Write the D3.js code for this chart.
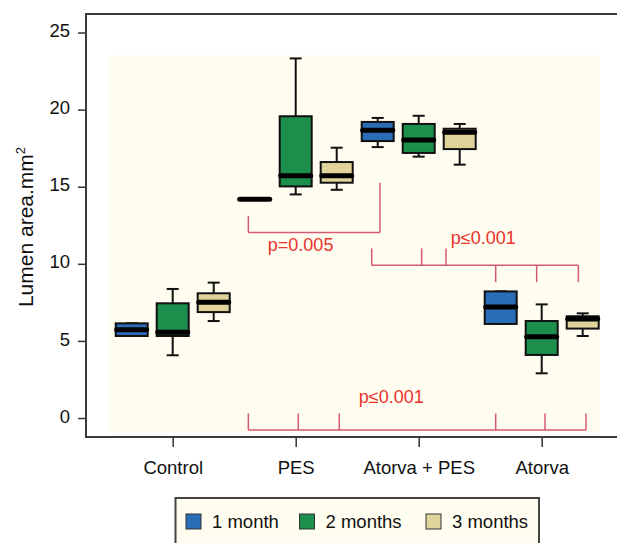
<!DOCTYPE html>
<html>
<head>
<meta charset="utf-8">
<script src="https://cdn.jsdelivr.net/npm/d3@7"></script>
<style>
  html, body { margin: 0; padding: 0; background: #ffffff; }
  svg { display: block; font-family: "Liberation Sans", Arial, Helvetica, sans-serif; }
</style>
</head>
<body>
<svg id="chart" width="617" height="543"></svg>
<script>
// ---------- data ----------
const categories = ["Control", "PES", "Atorva + PES", "Atorva"];
const months = ["1 month", "2 months", "3 months"];
const monthColors = ["#2a6cb6", "#1c8f4c", "#e0d49a"];
// each entry: [min, q1, median, q3, max] per category
const month1 = [
  [5.32, 5.32, 5.72, 6.14, 6.14],
  [14.18, 14.18, 14.18, 14.18, 14.18],
  [17.57, 17.96, 18.66, 19.2, 19.46],
  [6.1, 6.1, 7.2, 8.21, 8.21]
];
const month2 = [
  [4.07, 5.32, 5.56, 7.44, 8.37],
  [14.5, 15.02, 15.71, 19.57, 23.32],
  [16.95, 17.19, 18.03, 19.07, 19.6],
  [2.9, 4.09, 5.27, 6.29, 7.37]
];
const month3 = [
  [6.29, 6.87, 7.5, 8.09, 8.78],
  [14.8, 15.26, 15.71, 16.6, 17.53],
  [16.43, 17.44, 18.53, 18.76, 19.07],
  [5.32, 5.8, 6.42, 6.6, 6.79]
];
const yTicks = [0, 5, 10, 15, 20, 25];
const yLabel = "Lumen area.mm";
// significance brackets: x in category-index units, y in data units
const bracketLabels = ["p=0.005", "p\u22640.001", "p\u22640.001"];
const bracketBarY = [12.03, 9.9, -0.78];
const bracketTicks = [
  [[0.615, 13.11], [1.685, 15.25]],
  [[1.618, 11.0], [2.024, 11.0], [2.222, 11.0], [2.626, 8.81], [2.959, 8.81], [3.298, 8.81]],
  [[0.615, 0.3], [1.021, 0.3], [1.354, 0.3], [2.626, 0.3], [3.027, 0.3], [3.36, 0.3]]
];
const bracketLabelPos = [[1.04, 10.8], [2.525, 11.28], [1.777, 1.0]];

// ---------- layout ----------
const svg = d3.select("#chart");
const frame = { left: 86, top: 14, right: 617, bottom: 437 };
const y = d3.scaleLinear().domain([-1.23, 26.2]).range([frame.bottom, frame.top]);
const x = d3.scalePoint().domain(categories).range([172.7, 541.7]);
const xIdx = d3.scaleLinear().domain([0, categories.length - 1]).range([172.7, 541.7]);
const xSub = d3.scalePoint().domain(months).range([-41, 41]);
const boxW = 32, capW = 12;
const series = [month1, month2, month3];

// plot background
svg.append("rect")
  .attr("x", 108).attr("y", 55)
  .attr("width", 492).attr("height", 378)
  .attr("fill", "#fffdf0");

// ---------- boxes ----------
const boxData = [];
series.forEach((s, mi) => s.forEach((v, ci) => boxData.push({ m: months[mi], c: categories[ci], v, color: monthColors[mi] })));

const g = svg.append("g");
const boxes = g.selectAll("g.box").data(boxData).join("g")
  .attr("class", "box")
  .attr("transform", d => `translate(${x(d.c) + xSub(d.m)},0)`);

// whiskers
boxes.append("line")
  .attr("x1", 0).attr("x2", 0)
  .attr("y1", d => y(d.v[4])).attr("y2", d => y(d.v[3]))
  .attr("stroke", "#111").attr("stroke-width", 2);
boxes.append("line")
  .attr("x1", 0).attr("x2", 0)
  .attr("y1", d => y(d.v[1])).attr("y2", d => y(d.v[0]))
  .attr("stroke", "#111").attr("stroke-width", 2);
boxes.append("line")
  .attr("x1", -capW / 2).attr("x2", capW / 2)
  .attr("y1", d => y(d.v[4])).attr("y2", d => y(d.v[4]))
  .attr("stroke", "#111").attr("stroke-width", 2);
boxes.append("line")
  .attr("x1", -capW / 2).attr("x2", capW / 2)
  .attr("y1", d => y(d.v[0])).attr("y2", d => y(d.v[0]))
  .attr("stroke", "#111").attr("stroke-width", 2);
// box
boxes.append("rect")
  .attr("x", -boxW / 2).attr("width", boxW)
  .attr("y", d => y(d.v[3]))
  .attr("height", d => y(d.v[1]) - y(d.v[3]))
  .attr("fill", d => d.color)
  .attr("stroke", "#111").attr("stroke-width", 2);
// median
boxes.append("line")
  .attr("x1", -boxW / 2 + 1).attr("x2", boxW / 2 - 1)
  .attr("y1", d => y(d.v[2])).attr("y2", d => y(d.v[2]))
  .attr("stroke", "#000").attr("stroke-width", 5)
  .attr("stroke-linecap", "round");

// ---------- significance brackets ----------
const bracketColor = "#d45a72";
const textRed = "#e8332b";
bracketLabels.forEach((lab, i) => {
  const ticks = bracketTicks[i];
  const xs = ticks.map(t => xIdx(t[0]));
  const by = y(bracketBarY[i]);
  svg.append("line")
    .attr("x1", d3.min(xs)).attr("x2", d3.max(xs))
    .attr("y1", by).attr("y2", by)
    .attr("stroke", bracketColor).attr("stroke-width", 1.5);
  svg.selectAll(null).data(ticks).join("line")
    .attr("x1", t => xIdx(t[0])).attr("x2", t => xIdx(t[0]))
    .attr("y1", by).attr("y2", t => y(t[1]))
    .attr("stroke", bracketColor).attr("stroke-width", 1.5);
  svg.append("text")
    .attr("x", xIdx(bracketLabelPos[i][0]))
    .attr("y", y(bracketLabelPos[i][1]))
    .attr("text-anchor", "middle")
    .attr("font-size", 18)
    .attr("fill", textRed)
    .text(lab);
});

// ---------- axes ----------
const yAxis = svg.append("g")
  .attr("transform", `translate(${frame.left},0)`)
  .call(d3.axisLeft(y).tickValues(yTicks).tickSize(8).tickPadding(8).tickSizeOuter(0));
yAxis.select(".domain").remove();
yAxis.selectAll(".tick line").attr("stroke", "#333").attr("stroke-width", 1.5);
yAxis.selectAll(".tick text").attr("font-size", 18.5).attr("fill", "#111")
  .attr("font-family", "Liberation Sans, Arial, sans-serif").attr("dy", "0.22em");

const xAxis = svg.append("g")
  .attr("transform", `translate(0,${frame.bottom})`)
  .call(d3.axisBottom(x).tickSize(10).tickPadding(14).tickSizeOuter(0));
xAxis.select(".domain").remove();
xAxis.selectAll(".tick line").attr("stroke", "#333").attr("stroke-width", 1.5);
xAxis.selectAll(".tick text").attr("font-size", 18.5).attr("fill", "#111")
  .attr("font-family", "Liberation Sans, Arial, sans-serif");

// frame lines (left, top, bottom)
const frameColor = "#3a3a3a";
svg.append("line").attr("x1", frame.left).attr("x2", frame.left)
  .attr("y1", frame.top - 1).attr("y2", frame.bottom + 1)
  .attr("stroke", frameColor).attr("stroke-width", 2);
svg.append("line").attr("x1", frame.left).attr("x2", frame.right)
  .attr("y1", frame.top).attr("y2", frame.top)
  .attr("stroke", frameColor).attr("stroke-width", 2);
svg.append("line").attr("x1", frame.left).attr("x2", frame.right)
  .attr("y1", frame.bottom).attr("y2", frame.bottom)
  .attr("stroke", frameColor).attr("stroke-width", 2);

// y-axis title
const yt = svg.append("text")
  .attr("transform", "translate(33,227) rotate(-90)")
  .attr("text-anchor", "middle")
  .attr("font-size", 21)
  .attr("fill", "#111");
yt.append("tspan").text(yLabel);
yt.append("tspan").attr("font-size", 13).attr("dy", "-0.6em").text("2");

// ---------- legend ----------
svg.append("rect")
  .attr("x", 175.5).attr("y", 498)
  .attr("width", 363.5).attr("height", 60)
  .attr("fill", "#fffdf0")
  .attr("stroke", "#444").attr("stroke-width", 2);
const legendX = [186, 299.5, 426];
months.forEach((m, i) => {
  svg.append("rect")
    .attr("x", legendX[i]).attr("y", 514)
    .attr("width", 15).attr("height", 15)
    .attr("fill", monthColors[i])
    .attr("stroke", "#333").attr("stroke-width", 1);
  svg.append("text")
    .attr("x", legendX[i] + 26).attr("y", 528)
    .attr("font-size", 18.5).attr("fill", "#111")
    .text(m);
});
</script>
</body>
</html>
